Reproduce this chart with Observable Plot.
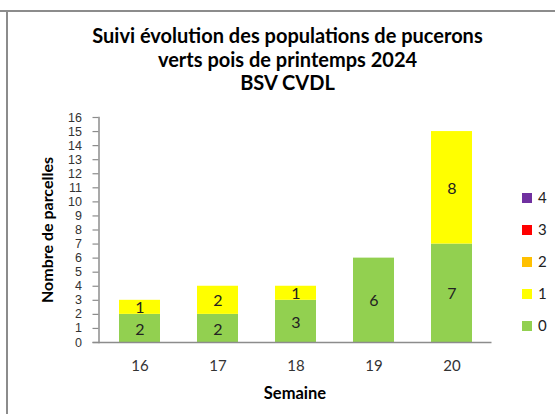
<!DOCTYPE html>
<html><head><meta charset="utf-8">
<script src="https://cdn.jsdelivr.net/npm/d3@7"></script>
<script src="https://cdn.jsdelivr.net/npm/@observablehq/plot@0.6"></script>
<style>
body{margin:0;background:#fff;font-family:Lato,"Open Sans",sans-serif;}
#wrap{position:relative;width:555px;height:414px;overflow:hidden;}
#btop{position:absolute;left:0;top:10px;width:555px;height:2px;background:#8c8c8c;}
#bleft{position:absolute;left:6px;top:10px;width:2px;height:410px;background:#8c8c8c;}
#title{position:absolute;left:0;width:575px;top:24px;text-align:center;font-weight:bold;font-size:20px;line-height:23.5px;color:#000;}
#ylab{position:absolute;left:46px;top:230px;transform:translate(-50%,-50%) rotate(-90deg);font-weight:bold;font-size:16px;white-space:nowrap;color:#000;}
#xlab{position:absolute;left:295px;top:393px;transform:translate(-50%,-50%);font-weight:bold;font-size:16.5px;color:#000;}
#legend{position:absolute;left:522px;top:0;}
.li{position:absolute;left:0;white-space:nowrap;font-size:15px;line-height:18px;color:#222;transform:translateY(-50%);}
.sw{display:inline-block;width:10px;height:10px;margin-right:6px;vertical-align:middle;position:relative;top:-1px;}
svg{position:absolute;left:0;top:0;}
</style></head>
<body><div id="wrap"><div id="btop"></div><div id="bleft"></div></div>
<script>
const weeks = ["16","17","18","19","20"];
const levels = ["0","1","2","3","4"];
const level0 = [2,2,3,6,7];
const level1 = [1,2,1,0,8];
const level2 = [0,0,0,0,0];
const level3 = [0,0,0,0,0];
const level4 = [0,0,0,0,0];
const colors = ["#92D050","#FFFF00","#FFC000","#FF0000","#7030A0"];
const yTicks = d3.range(0,17);
const titleLines = ["Suivi évolution des populations de pucerons","verts pois de printemps 2024","BSV CVDL"];

const series = [level0,level1,level2,level3,level4];
const rows = [];
weeks.forEach((w,i)=>levels.forEach((l,j)=>rows.push({week:w, level:l, count:series[j][i]})));

const chart = Plot.plot({
  width:555, height:414,
  marginLeft:98.5, marginRight:63.5, marginTop:117, marginBottom:72,
  style:{fontFamily:"Lato, 'Open Sans', sans-serif", background:"transparent"},
  x:{domain:weeks, paddingInner:0.48, paddingOuter:0.24},
  y:{domain:[0,16]},
  color:{domain:levels, range:colors},
  marks:[
    Plot.barY(rows, Plot.stackY({x:"week", y:"count", fill:"level", z:"level", order:levels})),
    Plot.text(rows, Plot.stackY({x:"week", y:"count", z:"level", order:levels, text:d=>d.count>0?String(d.count):"", fontSize:16, fill:"#222", dy:1})),
    Plot.frame({anchor:"left", stroke:"#8c8c8c", strokeWidth:1.5}),
    Plot.ruleY([0], {stroke:"#8c8c8c", strokeWidth:1.5, insetLeft:-6}),
    Plot.axisY({ticks:yTicks, tickSize:6, tickPadding:11, fontSize:12.5, fontFamily:"'Liberation Sans', Arial, sans-serif", label:null, stroke:"#8c8c8c", strokeWidth:1.2, fill:"#333", tickFormat:d=>String(d)}),
    Plot.axisX({tickSize:0, tickPadding:17.5, fontSize:15, label:null, fill:"#333"})
  ]
});
const wrap = document.getElementById("wrap");
wrap.appendChild(chart);

const t = document.createElement("div"); t.id="title";
t.innerHTML = titleLines.join("<br>");
wrap.appendChild(t);
const yl = document.createElement("div"); yl.id="ylab"; yl.textContent="Nombre de parcelles"; wrap.appendChild(yl);
const xl = document.createElement("div"); xl.id="xlab"; xl.textContent="Semaine"; wrap.appendChild(xl);
const lg = document.createElement("div"); lg.id="legend";
const legendCenters = [197,229,261,293,325];
levels.slice().reverse().forEach((l,k)=>{
  const it = document.createElement("div"); it.className="li"; it.style.top = legendCenters[k]+"px";
  it.innerHTML = `<span class="sw" style="background:${colors[levels.indexOf(l)]}"></span>${l}`;
  lg.appendChild(it);
});
wrap.appendChild(lg);
</script></body></html>
